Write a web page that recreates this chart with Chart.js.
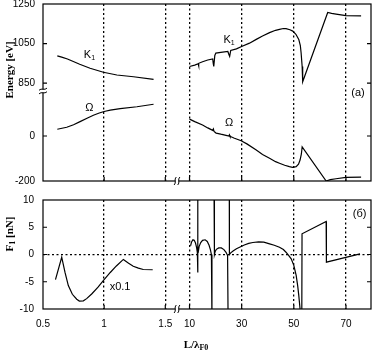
<!DOCTYPE html>
<html lang="en">
  <head>
    <meta charset="UTF-8" />
    <meta name="viewport" content="width=device-width, initial-scale=1.0" />
    <script src="https://cdn.jsdelivr.net/npm/chart.js"></script>
    <title>Energy and force vs L</title>
    <style>
      html, body { margin: 0; padding: 0; background: #fff; }
      #wrap { position: relative; width: 374px; height: 359px; }
      #top { position: absolute; left: 0; top: 0; width: 374px; height: 190px; }
      #bottom { position: absolute; left: 0; top: 190px; width: 374px; height: 169px; }
    </style>
  </head>
  <body>
    <div id="wrap">
      <div id="top"><canvas id="energyChart"></canvas></div>
      <div id="bottom"><canvas id="forceChart"></canvas></div>
    </div>

    <script>
      // tick values
      const xTicksLow = [0.5, 1, 1.5];
      const xTicksHigh = [10, 30, 50, 70];
      const energyTicksHigh = [850, 1050, 1250];
      const energyTicksLow = [-200, 0];
      const forceTicks = [-10, -5, 0, 5, 10];

      // [L/lambda, value] pairs
      const k1Low = [[0.617, 988], [0.653, 981], [0.70, 972], [0.748, 959], [0.80, 945], [0.885, 925],
        [0.994, 905], [1.104, 891], [1.24, 882], [1.404, 869]];
      const omegaLow = [[0.617, 30], [0.694, 39], [0.75, 50], [0.803, 64], [0.86, 79], [0.912, 92],
        [0.96, 102], [1.0, 109], [1.05, 115], [1.131, 122], [1.268, 130], [1.404, 141]];
      const k1High = [[10, 934], [12, 941], [13.3, 948], [13.45, 937], [13.6, 950], [15, 958], [17, 967],
        [18.9, 972], [19.1, 950], [19.3, 934], [19.7, 990], [20.1, 1002], [22, 1005], [24.7, 1010],
        [25.1, 995], [25.4, 985], [25.8, 1015], [28, 1023], [30.2, 1036], [33, 1052], [35.6, 1071],
        [38, 1088], [40.7, 1105], [43, 1117], [44.5, 1122], [46, 1126], [47, 1125], [48.5, 1120],
        [49.6, 1113], [50.8, 1097], [51.9, 1071], [52.5, 1040], [52.8, 1002], [53.2, 934], [53.4, 857],
        [63, 1207], [64.5, 1203], [66.2, 1199], [70, 1191], [75.8, 1190]];
      const omegaHigh = [[10, 75], [12, 64], [15, 49], [17, 36], [18.9, 25], [19.15, 31], [19.4, 20],
        [20.2, 13], [22, 8], [24, 3], [25.1, 0], [25.3, 5], [25.5, -1], [27, -9], [29.8, -21], [32, -35],
        [35.6, -62], [38, -82], [40.7, -99], [43, -114], [44.5, -121], [46.5, -130], [48.3, -136],
        [49.5, -139], [50.9, -136], [51.8, -125], [52.4, -107], [52.9, -80], [53.2, -48], [62.4, -200],
        [64, -194], [66.2, -190], [70, -184], [75.8, -183]];
      const forceLow = [[0.602, -4.6], [0.653, -0.5], [0.68, -3.3], [0.707, -5.7], [0.74, -7.3],
        [0.776, -8.2], [0.797, -8.55], [0.83, -8.5], [0.857, -8.1], [0.90, -7.2], [0.95, -6.0],
        [0.993, -4.8], [1.05, -3.3], [1.10, -2.1], [1.157, -0.9], [1.20, -1.6], [1.238, -2.15],
        [1.28, -2.5], [1.32, -2.75], [1.397, -2.8]];
      const forceHigh = [[10.4, 1.6], [10.8, 2.3], [11.3, 2.7], [11.8, 2.6], [12.3, 2.1], [12.7, 1.3],
        [13.0, 0.4], [13.15, -3.3], [13.2, 12], [13.21, null], [13.3, 0.3], [13.7, 1.5], [14.3, 2.2],
        [15.0, 2.6], [16.0, 2.7], [16.8, 2.4], [17.5, 1.7], [18.0, 0.9], [18.4, 0], [18.6, -12],
        [19.0, null], [19.4, 12], [19.55, 0], [19.8, 0.5], [20.3, 0.95], [21.2, 1.2], [22.2, 1.2],
        [23.2, 0.9], [24.0, 0.4], [24.6, -0.2], [24.8, -12], [25.0, null], [25.25, 12], [25.3, 0],
        [25.8, 0.3], [26.7, 0.65], [28, 1.05], [29.2, 1.34], [31, 1.75], [32.7, 2.05], [34.3, 2.2],
        [36.5, 2.3], [38.5, 2.28], [40.7, 1.96], [42.5, 1.7], [44.5, 1.34], [46, 0.9], [47, 0.42],
        [48, -0.15], [49, -0.8], [50, -2.0], [50.9, -3.85], [51.5, -5.8], [51.9, -7.5], [52.4, -10],
        [52.7, -13], [53.05, -13], [53.15, 3.8], [62.4, 6.06], [62.5, -1.41], [75.4, 0.1]];

      const SANS = '"Liberation Sans", Arial, sans-serif';
      const SERIF = '"Liberation Serif", "Times New Roman", serif';
      const noteFont = "11px " + SANS;
      const noteSub = "7px " + SANS;
      const titleFont = "bold 11px " + SERIF;
      const titleSub = "bold 8px " + SERIF;

      function line(pairs, xAxisID, yAxisID) {
        return {
          data: pairs.map((p) => ({ x: p[0], y: p[1] })),
          xAxisID: xAxisID,
          yAxisID: yAxisID,
          borderColor: "#000",
          borderWidth: 1.2,
          pointRadius: 0,
          tension: 0,
          fill: false,
          spanGaps: false,
        };
      }

      function fixedTicks(values) {
        return (scale) => {
          scale.ticks = values.map((v) => ({ value: v }));
        };
      }

      function xAxis(values, min, max, weight, labelled) {
        return {
          type: "linear", position: "bottom", stack: "x", stackWeight: weight,
          min: min, max: max,
          afterBuildTicks: fixedTicks(values),
          afterFit: (s) => { s.height = labelled ? 50 : 0; s.paddingLeft = 0; s.paddingRight = 0; },
          grid: {
            drawTicks: false, lineWidth: 1.3,
            color: (c) => (c.tick && (c.tick.value === min || c.tick.value === max) ? "rgba(0,0,0,0)" : "#000"),
          },
          border: { display: false, dash: [2, 2.5] },
          ticks: {
            display: labelled, padding: 9, autoSkip: false, maxRotation: 0, color: "#000",
            font: { family: SANS, size: 10 }, callback: (v) => String(v),
          },
        };
      }

      function yAxis(values, min, max, extra) {
        return Object.assign({
          type: "linear", position: "left", min: min, max: max,
          afterBuildTicks: fixedTicks(values),
          afterFit: (s) => { s.width = 43; s.paddingTop = 0; s.paddingBottom = 0; },
          grid: { display: false, drawTicks: false },
          border: { display: false },
          ticks: {
            padding: 8, autoSkip: false, color: "#000",
            font: { family: SANS, size: 10 }, callback: (v) => String(v),
          },
        }, extra);
      }

      // text with optional subscript pieces
      function drawRich(ctx, segs, cx, cy, rotate) {
        ctx.save();
        ctx.translate(cx, cy);
        if (rotate) ctx.rotate(-Math.PI / 2);
        ctx.textBaseline = "middle";
        ctx.textAlign = "left";
        ctx.fillStyle = "#000";
        let w = 0;
        segs.forEach((s) => { ctx.font = s.font; w += ctx.measureText(s.t).width; });
        let x = -w / 2;
        segs.forEach((s) => {
          ctx.font = s.font;
          ctx.fillText(s.t, x, s.dy || 0);
          x += ctx.measureText(s.t).width;
        });
        ctx.restore();
      }

      function breakOnX(ctx, x, y) {
        ctx.fillStyle = "#fff";
        ctx.fillRect(x - 1.6, y - 1.5, 3.2, 3);
        ctx.beginPath();
        [-1.8, 1.8].forEach((d) => {
          ctx.moveTo(x + d + 1.2, y - 4);
          ctx.bezierCurveTo(x + d - 1.6, y - 1.5, x + d + 1.6, y + 1.5, x + d - 1.2, y + 4);
        });
        ctx.lineWidth = 1;
        ctx.stroke();
      }

      function breakOnY(ctx, x, y) {
        ctx.fillStyle = "#fff";
        ctx.fillRect(x - 1.5, y - 1.6, 3, 3.2);
        ctx.beginPath();
        [-1.8, 1.8].forEach((d) => {
          ctx.moveTo(x - 4, y + d + 1.2);
          ctx.bezierCurveTo(x - 1.5, y + d - 1.6, x + 1.5, y + d + 1.6, x + 4, y + d - 1.2);
        });
        ctx.lineWidth = 1;
        ctx.stroke();
      }

      // frame, inward ticks, axis breaks, labels
      function decor(cfg) {
        return {
          id: "decor",
          afterDraw(chart) {
            const { ctx, chartArea: a, scales } = chart;
            ctx.save();
            ctx.strokeStyle = "#000";
            ctx.lineWidth = 1.2;
            ctx.strokeRect(a.left, a.top, a.width, a.height);

            ctx.beginPath();
            Object.values(scales).forEach((s) => {
              s.ticks.forEach((t) => {
                if (t.value <= s.min || t.value >= s.max) return;
                const p = s.getPixelForValue(t.value);
                if (s.isHorizontal()) {
                  ctx.moveTo(p, a.bottom); ctx.lineTo(p, a.bottom - 4);
                } else {
                  ctx.moveTo(a.left, p); ctx.lineTo(a.left + 4, p);
                  ctx.moveTo(a.right, p); ctx.lineTo(a.right - 4, p);
                }
              });
            });
            ctx.stroke();

            breakOnX(ctx, scales.xL.right, a.bottom);
            if (cfg.yBreak) breakOnY(ctx, a.left, scales[cfg.yBreak].top);

            cfg.notes.forEach((n) => {
              const x = scales[n.xAxis].getPixelForValue(n.x);
              const y = scales[n.yAxis].getPixelForValue(n.y);
              drawRich(ctx, n.segs, x, y, false);
            });
            cfg.titles.forEach((t) => drawRich(ctx, t.segs, t.x, t.y, t.rotate));
            ctx.restore();
          },
        };
      }

      const common = {
        responsive: true,
        maintainAspectRatio: false,
        animation: false,
        plugins: { legend: { display: false }, tooltip: { enabled: false } },
      };

      new Chart(document.getElementById("energyChart"), {
        type: "line",
        data: {
          datasets: [
            line(k1Low, "xL", "yK"),
            line(omegaLow, "xL", "yO"),
            line(k1High, "xR", "yK"),
            line(omegaHigh, "xR", "yO"),
          ],
        },
        options: Object.assign({}, common, {
          layout: { padding: { top: 4, right: 3, bottom: 9, left: 0 } },
          scales: {
            xL: xAxis(xTicksLow, 0.5, 1.5957, 134, false),
            xR: xAxis(xTicksHigh, 5.2, 79.6, 194, false),
            yO: yAxis(energyTicksLow, -200, 200, { stack: "e", stackWeight: 90 }),
            yK: yAxis(energyTicksHigh, 810, 1250, { stack: "e", stackWeight: 87 }),
          },
        }),
        plugins: [decor({
          yBreak: "yO",
          notes: [
            { xAxis: "xL", yAxis: "yK", x: 0.88, y: 990, segs: [{ t: "K", font: noteFont }, { t: "1", font: noteSub, dy: 3 }] },
            { xAxis: "xL", yAxis: "yO", x: 0.88, y: 124, segs: [{ t: "Ω", font: noteFont }] },
            { xAxis: "xR", yAxis: "yK", x: 25.2, y: 1068, segs: [{ t: "K", font: noteFont }, { t: "1", font: noteSub, dy: 3 }] },
            { xAxis: "xR", yAxis: "yO", x: 25.2, y: 60, segs: [{ t: "Ω", font: noteFont }] },
            { xAxis: "xR", yAxis: "yO", x: 74.6, y: 193, segs: [{ t: "(a)", font: noteFont }] },
          ],
          titles: [
            { x: 10, y: 70, rotate: true, segs: [{ t: "Energy [eV]", font: titleFont }] },
          ],
        })],
      });

      new Chart(document.getElementById("forceChart"), {
        type: "line",
        data: {
          datasets: [line(forceLow, "xL", "y"), line(forceHigh, "xR", "y")],
        },
        options: Object.assign({}, common, {
          layout: { padding: { top: 10, right: 3, bottom: 0, left: 0 } },
          scales: {
            xL: xAxis(xTicksLow, 0.5, 1.5957, 134, true),
            xR: xAxis(xTicksHigh, 5.2, 79.6, 194, true),
            y: yAxis(forceTicks, -10, 10, {
              grid: {
                drawTicks: false, lineWidth: 1.3,
                color: (c) => (c.tick && c.tick.value === 0 ? "#000" : "rgba(0,0,0,0)"),
              },
              border: { display: false, dash: [2, 2.5] },
              ticks: {
                padding: 9, autoSkip: false, color: "#000",
                font: { family: SANS, size: 10 }, callback: (v) => String(v),
              },
            }),
          },
        }),
        plugins: [decor({
          yBreak: null,
          notes: [
            { xAxis: "xR", yAxis: "y", x: 75.2, y: 7.5, segs: [{ t: "(б)", font: noteFont }] },
            { xAxis: "xL", yAxis: "y", x: 1.13, y: -5.9, segs: [{ t: "x0.1", font: noteFont }] },
          ],
          titles: [
            { x: 10, y: 44, rotate: true, segs: [{ t: "F", font: titleFont }, { t: "1", font: titleSub, dy: 3 }, { t: " [nN]", font: titleFont }] },
            { x: 196, y: 155, rotate: false, segs: [{ t: "L/λ", font: titleFont }, { t: "F0", font: titleSub, dy: 3 }] },
          ],
        })],
      });
    </script>
  </body>
</html>
